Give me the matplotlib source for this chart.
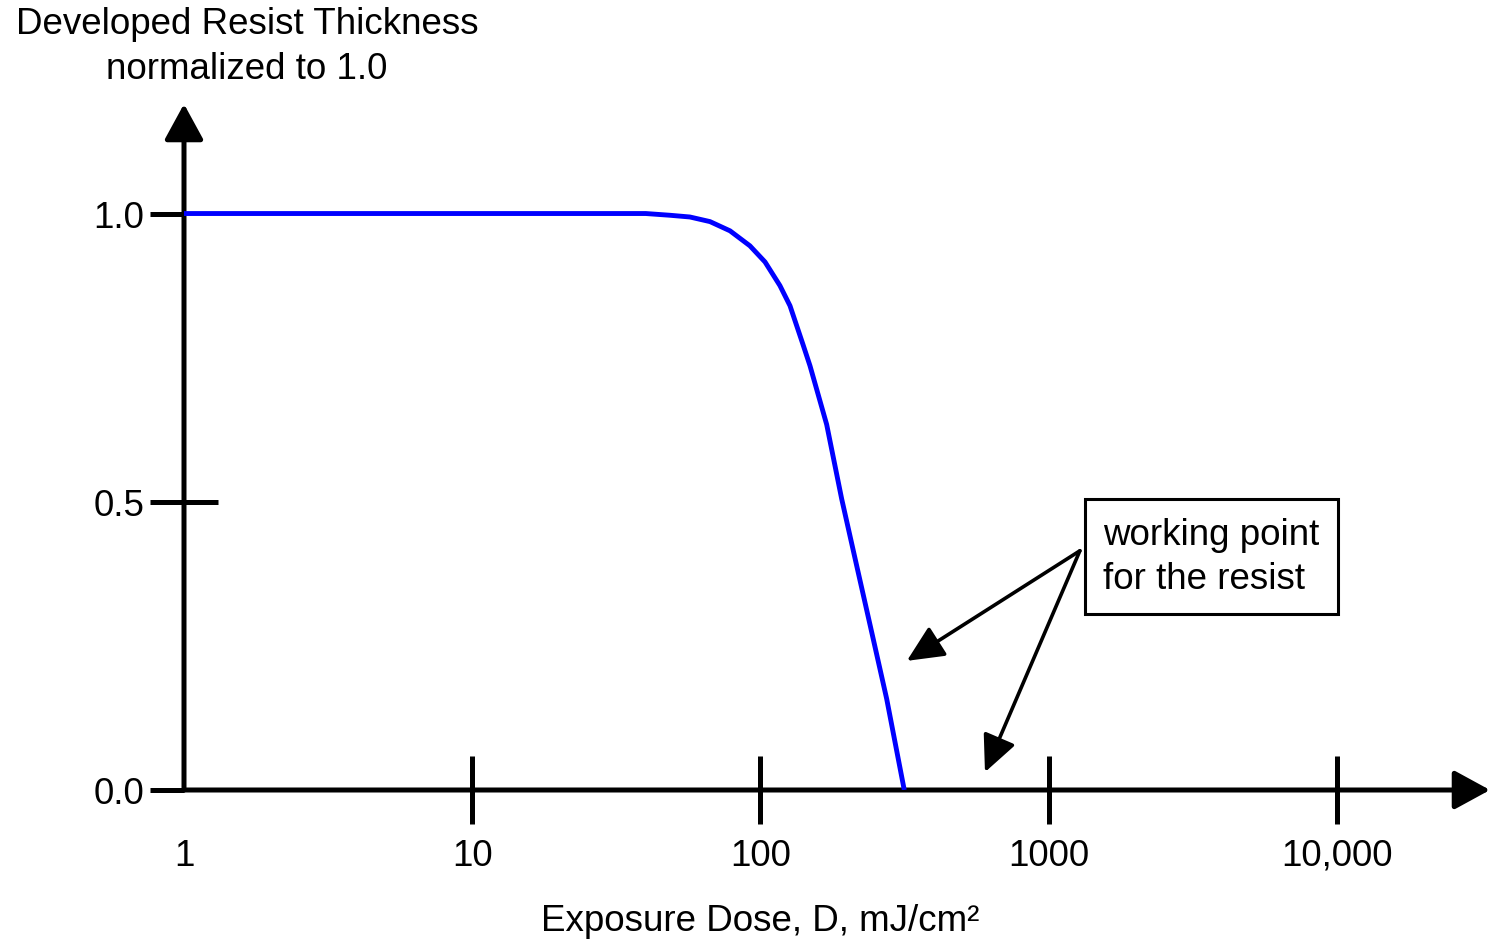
import numpy as np
import matplotlib.pyplot as plt

# ── DATA ──────────────────────────────────────────
dose = [1, 40, 48.5, 56.9, 66.8, 78.4, 91.9, 103.7, 116.8, 126.6, 140.4,
        148.5, 169.7, 191.3, 215.7, 243.1, 274.1, 315.4]
thickness = [1.0, 1.0, 0.997, 0.994, 0.986, 0.970, 0.944, 0.916, 0.875,
             0.840, 0.773, 0.736, 0.634, 0.505, 0.389, 0.274, 0.158, 0.0]

x_ticks = [1, 10, 100, 1000, 10000]
x_tick_labels = ["1", "10", "100", "1000", "10,000"]
y_ticks = [0.0, 0.5, 1.0]
y_tick_labels = ["0.0", "0.5", "1.0"]

X_MAX = 10 ** 4.531
Y_MAX = 1.19

# annotation anchor / arrow targets (data coords)
NOTE_START = (1283, 0.415)
NOTE_TIPS = [(322, 0.224), (601, 0.031)]
NOTE_TEXT_POS = (1542, 0.405)

FONT = "Liberation Sans"
FS = 26.5

plt.rcParams["font.family"] = [FONT, "DejaVu Sans"]

# ── PLOT ──────────────────────────────────────────
fig = plt.figure(figsize=(14.9, 9.45), dpi=100)
ax = fig.add_axes([184 / 1490, 154 / 945, 1306 / 1490, 686 / 945])
ax.set_xscale("log")
ax.set_xlim(1, X_MAX)
ax.set_ylim(0, Y_MAX)

for s in ax.spines.values():
    s.set_visible(False)

ax.plot(dose, thickness, color="#0000ff", lw=3.5, solid_capstyle="butt",
        solid_joinstyle="round", zorder=4)

# axes with arrowheads
arrow_kw = dict(arrowstyle="-|>,head_length=0.55,head_width=0.3",
                mutation_scale=40, lw=3.6, color="black",
                shrinkA=0, shrinkB=0)
ax.annotate("", xy=(X_MAX, 0), xytext=(1, 0), arrowprops=arrow_kw,
            annotation_clip=False, zorder=3)
ax.annotate("", xy=(1, Y_MAX), xytext=(1, 0), arrowprops=arrow_kw,
            annotation_clip=False, zorder=3)

# ticks
ax.set_xticks(x_ticks)
ax.set_xticklabels(x_tick_labels)
ax.xaxis.set_minor_locator(plt.NullLocator())
ax.tick_params(axis="x", which="major", direction="inout", length=49,
               width=3.6, labelsize=FS, pad=10)
ax.xaxis.get_major_ticks()[0].tick1line.set_visible(False)

ax.yaxis.remove_overlapping_locs = False
ax.set_yticks(y_ticks)
ax.set_yticklabels(y_tick_labels)
ax.set_yticks([0.5], minor=True)
ax.tick_params(axis="y", which="major", direction="out", length=24.5,
               width=3.6, labelsize=FS, pad=4)
ax.tick_params(axis="y", which="minor", direction="in", length=24.5,
               width=3.6, labelleft=False)

# labels
fig.text(247 / 1490, 1 - 47 / 945, "Developed Resist Thickness\nnormalized to 1.0",
         ha="center", va="center", fontsize=FS, linespacing=1.35)
fig.text(760 / 1490, 1 - 922 / 945, "Exposure Dose, D, mJ/cm²",
         ha="center", va="center", fontsize=FS)

# working point note
ax.text(*NOTE_TEXT_POS, "working point\nfor the resist", ha="left",
        va="center", fontsize=FS, linespacing=1.32,
        bbox=dict(boxstyle="square,pad=0.5", fc="white", ec="black", lw=2.2),
        zorder=5)
note_kw = dict(arrowstyle="-|>,head_length=0.75,head_width=0.35",
               mutation_scale=30, lw=2.6, color="black",
               shrinkA=0, shrinkB=0)
for tip in NOTE_TIPS:
    ax.annotate("", xy=tip, xytext=NOTE_START, arrowprops=note_kw,
                annotation_clip=False, zorder=4)

fig.savefig("out.png", dpi=100)
